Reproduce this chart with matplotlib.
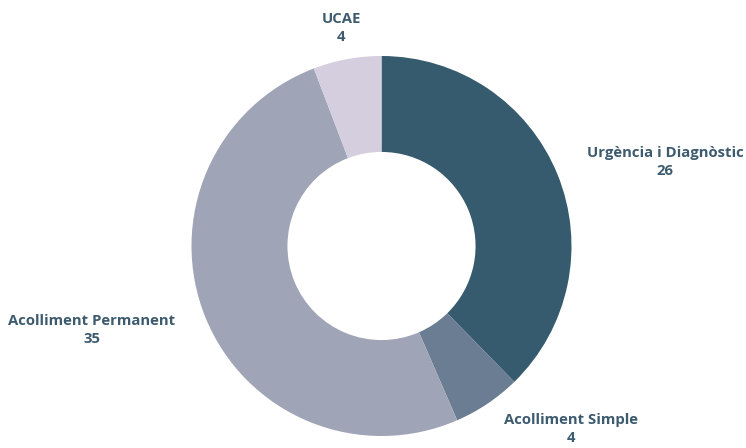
import matplotlib
matplotlib.use("Agg")
import matplotlib.pyplot as plt

categories = ["Urgència i Diagnòstic", "Acolliment Simple", "Acolliment Permanent", "UCAE"]
values = [26, 4, 35, 4]
colors = ["#365b6e", "#6b7d93", "#a0a4b7", "#d4cedf"]
label_pos = [(665, 162), (571, 429), (92, 330), (341, 28)]

W, H = 746, 448
fig = plt.figure(figsize=(W / 100, H / 100), dpi=100)
ax = fig.add_axes([0, 0, 1, 1])
ax.axis("off")

cx, cy, r = 381.5, 246, 190
wedges, _ = ax.pie(values, colors=colors, startangle=90, counterclock=False,
                   center=(cx, H - cy), radius=r,
                   wedgeprops=dict(width=r * 0.505, edgecolor="white", linewidth=0))
ax.set_xlim(0, W)
ax.set_ylim(0, H)
ax.set_aspect("equal")

for name, v, (x, y) in zip(categories, values, label_pos):
    ax.text(x, H - y, f"{name}\n{v}", ha="center", va="center", fontsize=10.7,
            fontweight="bold", family="Open Sans", color="#3d5b6f", linespacing=1.3)

fig.savefig("out.png", dpi=100)
